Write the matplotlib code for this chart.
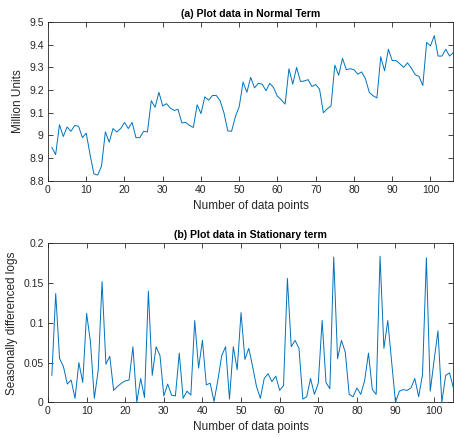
import matplotlib
matplotlib.use('Agg')
import matplotlib.pyplot as plt
from matplotlib.ticker import FuncFormatter

# (a) original series, million units
normal_vals = [8.947, 8.915, 9.047, 8.995, 9.037, 9.018, 9.044, 9.040, 8.990, 9.010,
               8.915, 8.830, 8.825, 8.865, 9.015, 8.970, 9.030, 9.015, 9.030, 9.057,
               9.030, 9.057, 8.990, 8.990, 9.018, 9.015, 9.153, 9.124, 9.190, 9.130,
               9.140, 9.120, 9.110, 9.115, 9.055, 9.057, 9.044, 9.035, 9.135, 9.096,
               9.170, 9.155, 9.176, 9.176, 9.153, 9.100, 9.020, 9.018, 9.083, 9.127,
               9.235, 9.190, 9.256, 9.210, 9.230, 9.226, 9.197, 9.230, 9.210, 9.172,
               9.157, 9.138, 9.294, 9.226, 9.300, 9.238, 9.240, 9.246, 9.216, 9.224,
               9.204, 9.100, 9.117, 9.130, 9.310, 9.265, 9.340, 9.290, 9.294, 9.290,
               9.270, 9.280, 9.250, 9.190, 9.175, 9.165, 9.347, 9.285, 9.380, 9.330,
               9.330, 9.316, 9.300, 9.320, 9.297, 9.268, 9.260, 9.220, 9.410, 9.395,
               9.440, 9.350, 9.350, 9.380, 9.350, 9.365]

# (b) seasonally differenced logs
station_vals = [0.034, 0.137, 0.055, 0.045, 0.023, 0.028, 0.005, 0.050, 0.025, 0.112,
                0.076, 0.005, 0.040, 0.152, 0.048, 0.058, 0.015, 0.020, 0.024, 0.027,
                0.028, 0.070, 0.000, 0.030, 0.006, 0.140, 0.034, 0.070, 0.059, 0.008,
                0.023, 0.009, 0.008, 0.062, 0.005, 0.014, 0.009, 0.103, 0.043, 0.078,
                0.022, 0.024, 0.001, 0.028, 0.059, 0.070, 0.004, 0.070, 0.041, 0.113,
                0.054, 0.068, 0.045, 0.020, 0.005, 0.030, 0.036, 0.026, 0.033, 0.015,
                0.021, 0.156, 0.070, 0.078, 0.068, 0.004, 0.007, 0.030, 0.010, 0.024,
                0.103, 0.025, 0.017, 0.183, 0.055, 0.078, 0.063, 0.010, 0.007, 0.018,
                0.010, 0.027, 0.062, 0.016, 0.010, 0.184, 0.068, 0.103, 0.051, 0.000,
                0.014, 0.016, 0.015, 0.018, 0.030, 0.007, 0.035, 0.182, 0.014, 0.053,
                0.090, 0.000, 0.034, 0.037, 0.018]

normal_yticks = [8.8, 8.9, 9.0, 9.1, 9.2, 9.3, 9.4, 9.5]
station_yticks = [0, 0.05, 0.1, 0.15, 0.2]
xticks = [0, 10, 20, 30, 40, 50, 60, 70, 80, 90, 100]

plt.rcParams['font.family'] = ['Liberation Sans', 'DejaVu Sans']
line_color = '#0072BD'
axis_color = '#262626'


def style_axes(ax):
    for s in ax.spines.values():
        s.set_color(axis_color)
        s.set_linewidth(0.6)
    ax.tick_params(direction='in', top=True, right=True, length=3.5, width=0.6,
                   colors=axis_color, labelsize=7.5, pad=3)
    ax.set_xticks(xticks)
    ax.yaxis.set_major_formatter(FuncFormatter(lambda v, p: '%g' % round(v, 3)))


fig = plt.figure(figsize=(4.54, 4.37), dpi=100)
ax1 = fig.add_axes([0.1057, 0.5865, 0.893, 0.363])
ax2 = fig.add_axes([0.1057, 0.0794, 0.893, 0.3634])

x1 = list(range(1, len(normal_vals) + 1))
ax1.plot(x1, normal_vals, color=line_color, linewidth=0.7)
ax1.set_xlim(0, len(normal_vals))
ax1.set_ylim(8.8, 9.5)
ax1.set_yticks(normal_yticks)
style_axes(ax1)
ax1.set_title('(a) Plot data in Normal Term', fontsize=7.6, fontweight='bold', pad=4)
ax1.set_xlabel('Number of data points', fontsize=8.5, labelpad=3.5, color=axis_color)
ax1.set_ylabel('Million Units', fontsize=8.5, labelpad=4, color=axis_color)

x2 = list(range(1, len(station_vals) + 1))
ax2.plot(x2, station_vals, color=line_color, linewidth=0.7)
ax2.set_xlim(0, len(station_vals))
ax2.set_ylim(0, 0.2)
ax2.set_yticks(station_yticks)
style_axes(ax2)
ax2.set_title('(b) Plot data in Stationary term', fontsize=7.6, fontweight='bold', pad=4)
ax2.set_xlabel('Number of data points', fontsize=8.5, labelpad=3.5, color=axis_color)
ax2.set_ylabel('Seasonally differenced logs', fontsize=8.5, labelpad=4, color=axis_color)

plt.savefig('out.png', dpi=100)
